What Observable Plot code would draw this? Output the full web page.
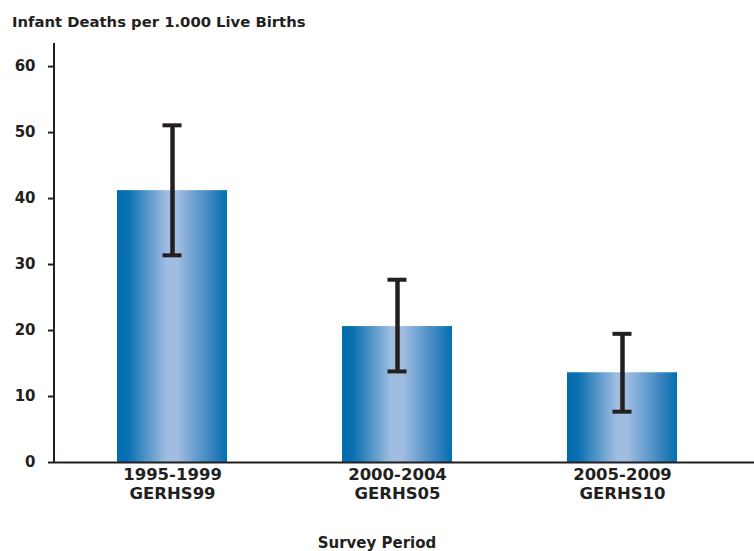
<!DOCTYPE html>
<html>
<head>
<meta charset="utf-8">
<script src="https://cdn.jsdelivr.net/npm/d3@7"></script>
<script src="https://cdn.jsdelivr.net/npm/@observablehq/plot@0.6"></script>
<style>
  html, body { margin: 0; padding: 0; background: #fff; }
  #title { font-family: "DejaVu Sans", Verdana, sans-serif; font-weight: bold; font-size: 14.8px;
           color: #231f20; height: 36px; line-height: 16px; padding: 14px 0 0 12px; box-sizing: border-box; white-space: nowrap; }
  #caption { font-family: "DejaVu Sans", Verdana, sans-serif; font-weight: bold; font-size: 15px;
             color: #231f20; line-height: 16px; padding-top: 7px; width: 754px; text-align: center; }
  svg { display: block; }
</style>
</head>
<body>
<div id="title">Infant Deaths per 1.000 Live Births</div>
<div id="chart"></div>
<div id="caption">Survey Period</div>
<script>
const periods = ["1995-1999", "2000-2004", "2005-2009"];
const surveys = ["GERHS99", "GERHS05", "GERHS10"];
const rates = [41.2, 20.6, 13.6];
const lower = [31.4, 13.8, 7.7];
const upper = [51.1, 27.7, 19.5];
const yTicks = [0, 10, 20, 30, 40, 50, 60];

const data = periods.map((p, i) => ({period: p, survey: surveys[i], rate: rates[i], lo: lower[i], hi: upper[i]}));
const surveyOf = Object.fromEntries(data.map(d => [d.period, d.survey]));
const ns = "http://www.w3.org/2000/svg";

const gradientDefs = () => {
  const defs = document.createElementNS(ns, "defs");
  const g = document.createElementNS(ns, "linearGradient");
  g.setAttribute("id", "barGrad");
  g.setAttribute("x1", "0"); g.setAttribute("x2", "1"); g.setAttribute("y1", "0"); g.setAttribute("y2", "0");
  [["0%", "#006cae"], ["10%", "#0a70b1"], ["45%", "#a0bde1"], ["55%", "#a0bde1"], ["90%", "#2a7cbb"], ["100%", "#0071b2"]]
    .forEach(([o, c]) => {
      const s = document.createElementNS(ns, "stop");
      s.setAttribute("offset", o); s.setAttribute("stop-color", c);
      g.appendChild(s);
    });
  defs.appendChild(g);
  return defs;
};

// left axis line along the frame's left edge
const yAxisLine = (index, scales, values, dims) => {
  const l = document.createElementNS(ns, "line");
  const x = dims.marginLeft;
  l.setAttribute("x1", x); l.setAttribute("x2", x);
  l.setAttribute("y1", dims.marginTop); l.setAttribute("y2", dims.height - dims.marginBottom);
  l.setAttribute("stroke", "#231f20"); l.setAttribute("stroke-width", 2);
  return l;
};

const chart = Plot.plot({
  width: 754,
  height: 492,
  marginLeft: 54,
  marginRight: 0,
  marginTop: 7,
  marginBottom: 66,
  style: {fontFamily: "'DejaVu Sans', Verdana, sans-serif", fontWeight: "bold", fontSize: "15px", color: "#231f20", background: "#fff"},
  x: {domain: periods, range: [54, 740], paddingInner: 0.511, paddingOuter: 0.28, round: false},
  y: {domain: [0, 63.5]},
  marks: [
    gradientDefs,
    Plot.barY(data, {x: "period", y: "rate", fill: "url(#barGrad)"}),
    Plot.ruleX(data, {x: "period", y1: "lo", y2: "hi", stroke: "#231f20", strokeWidth: 4.5}),
    Plot.tickY(data, {x: "period", y: "lo", stroke: "#231f20", strokeWidth: 4, insetLeft: 45.5, insetRight: 45.5}),
    Plot.tickY(data, {x: "period", y: "hi", stroke: "#231f20", strokeWidth: 4, insetLeft: 45.5, insetRight: 45.5}),
    Plot.axisY({ticks: yTicks, tickSize: 6, tickPadding: 13, strokeWidth: 2, stroke: "#231f20", fill: "#231f20", label: null, fontSize: 15}),
    yAxisLine,
    Plot.ruleY([0], {stroke: "#231f20", strokeWidth: 2}),
    Plot.axisX({tickSize: 0, tickPadding: 4, fill: "#231f20", fontSize: 16.5, lineHeight: 1.15,
                tickFormat: d => d + "\n" + surveyOf[d], label: null})
  ]
});
document.getElementById("chart").appendChild(chart);
</script>
</body>
</html>
